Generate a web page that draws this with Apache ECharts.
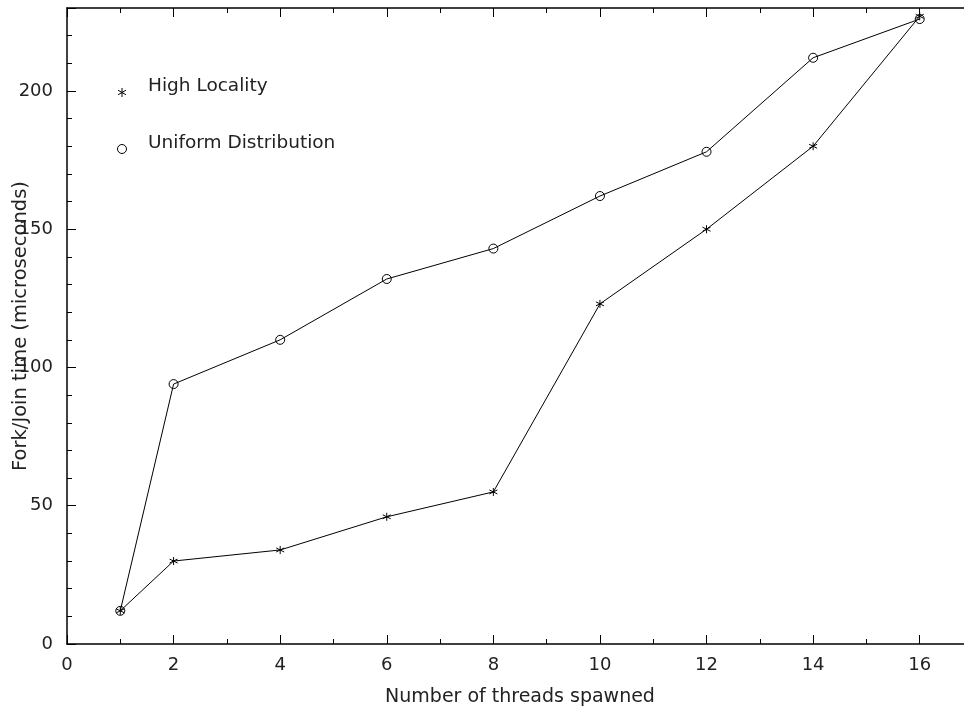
<!DOCTYPE html>
<html>
<head>
<meta charset="utf-8">
<script src="https://cdn.jsdelivr.net/npm/echarts@6/dist/echarts.min.js"></script>
<style>html,body{margin:0;padding:0;background:#fff;}#c{width:964px;height:715px;}</style>
</head>
<body>
<div id="c"></div>
<script>
var threads = [1, 2, 4, 6, 8, 10, 12, 14, 16];
var highLocality = [12, 30, 34, 46, 55, 123, 150, 180, 227];
var uniformDist = [12, 94, 110, 132, 143, 162, 178, 212, 226];
var seriesNames = ['High Locality', 'Uniform Distribution'];
var xLabelTicks = [0, 2, 4, 6, 8, 10, 12, 14, 16];
var yLabelTicks = [0, 50, 100, 150, 200];

var FONT = 'DejaVu Sans';
var INK = '#222';
var STAR = 'path://M0,-1L0,1M-0.87,-0.5L0.87,0.5M-0.87,0.5L0.87,-0.5';

function pairs(xs, ys) { return xs.map(function (x, i) { return [x, ys[i]]; }); }

function xAx(pos, interval, len, showLabel, showLine, extra) {
  var a = {
    type: 'value', position: pos, offset: 0, min: 0, max: 17, interval: interval,
    axisLine: { show: showLine, onZero: false, lineStyle: { color: '#000', width: 1.5 } },
    axisTick: { show: true, inside: true, length: len, lineStyle: { color: '#000', width: 1 } },
    axisLabel: {
      show: showLabel, margin: 12, fontFamily: FONT, fontSize: 18, color: INK,
      formatter: function (v) { return xLabelTicks.indexOf(v) >= 0 ? String(v) : ''; }
    },
    splitLine: { show: false }
  };
  for (var k in extra) a[k] = extra[k];
  return a;
}
function yAx(pos, interval, len, showLabel, showLine, extra) {
  var a = {
    type: 'value', position: pos, offset: 0, min: 0, max: 230, interval: interval,
    axisLine: { show: showLine, onZero: false, lineStyle: { color: '#000', width: 1.5 } },
    axisTick: { show: true, inside: true, length: len, lineStyle: { color: '#000', width: 1 } },
    axisLabel: {
      show: showLabel, margin: 14, fontFamily: FONT, fontSize: 18, color: INK,
      formatter: function (v) { return yLabelTicks.indexOf(v) >= 0 ? String(v) : ''; }
    },
    splitLine: { show: false }
  };
  for (var k in extra) a[k] = extra[k];
  return a;
}

var chart = echarts.init(document.getElementById('c'), null, { renderer: 'canvas' });
chart.setOption({
  backgroundColor: '#fff',
  animation: false,
  textStyle: { fontFamily: FONT },
  grid: { left: 67, top: 8, width: 906, height: 636, containLabel: false, outerBoundsMode: 'none' },
  legend: {
    orient: 'vertical', left: 112, top: 72, itemWidth: 42, itemHeight: 9, itemGap: 36,
    selectedMode: false,
    itemStyle: { color: 'transparent', borderColor: '#000', borderWidth: 1 },
    formatter: '{t|{name}}',
    textStyle: {
      fontFamily: FONT, fontSize: 18, color: INK,
      rich: { t: { fontFamily: FONT, fontSize: 18.5, color: INK, padding: [0, 0, 12, 0] } }
    },
    data: [
      { name: seriesNames[0], icon: STAR },
      { name: seriesNames[1], icon: 'circle' }
    ]
  },
  xAxis: [
    xAx('bottom', 2, 9, true, true, {
      name: 'Number of threads spawned', nameLocation: 'middle', nameGap: 44, nameMoveOverlap: false,
      nameTextStyle: { fontFamily: FONT, fontSize: 19, color: INK }
    }),
    xAx('bottom', 1, 5, false, false, {}),
    xAx('top', 2, 9, false, true, {}),
    xAx('top', 1, 5, false, false, {})
  ],
  yAxis: [
    yAx('left', 50, 9, true, true, {
      name: 'Fork/Join time (microseconds)', nameLocation: 'middle', nameGap: 36, nameMoveOverlap: false,
      nameTextStyle: { fontFamily: FONT, fontSize: 19.5, color: INK }
    }),
    yAx('left', 10, 5, false, false, {}),
    yAx('right', 50, 9, false, true, {}),
    yAx('right', 10, 5, false, false, {})
  ],
  series: [
    {
      name: seriesNames[0], type: 'line', xAxisIndex: 0, yAxisIndex: 0,
      data: pairs(threads, highLocality),
      symbol: STAR, symbolSize: 8, showAllSymbol: true,
      lineStyle: { color: '#000', width: 1 },
      itemStyle: { color: 'transparent', borderColor: '#000', borderWidth: 1 }
    },
    {
      name: seriesNames[1], type: 'line', xAxisIndex: 0, yAxisIndex: 0,
      data: pairs(threads, uniformDist),
      symbol: 'circle', symbolSize: 9, showAllSymbol: true,
      lineStyle: { color: '#000', width: 1 },
      itemStyle: { color: 'transparent', borderColor: '#000', borderWidth: 1 }
    }
  ]
});
</script>
</body>
</html>
